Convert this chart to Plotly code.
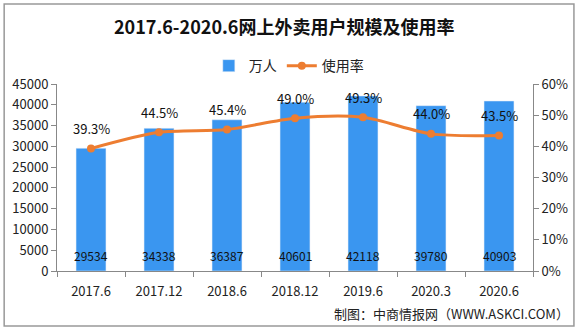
import plotly.graph_objects as go

categories = ["2017.6", "2017.12", "2018.6", "2018.12", "2019.6", "2020.3", "2020.6"]
users = [29534, 34338, 36387, 40601, 42118, 39780, 40903]
rate = [39.3, 44.5, 45.4, 49.0, 49.3, 44.0, 43.5]
rate_labels = ["39.3%", "44.5%", "45.4%", "49.0%", "49.3%", "44.0%", "43.5%"]

FONT = "Noto Sans CJK SC"
BLUE = "#3A96F0"
ORANGE = "#ED7D31"

pos = list(range(len(categories)))
bounds = [p - 0.5 for p in pos] + [pos[-1] + 0.5]

fig = go.Figure()
fig.add_trace(go.Bar(
    x=pos, y=users, name="万人", marker_color=BLUE, width=0.44, yaxis="y",
))
fig.add_trace(go.Scatter(
    x=pos, y=rate, name="使用率", yaxis="y2", mode="lines+markers",
    line=dict(color=ORANGE, width=3, shape="spline", smoothing=0.8),
    marker=dict(color=ORANGE, size=8),
))

annotations = []
for p, v in zip(pos, users):
    annotations.append(dict(x=p, y=0, xref="x", yref="y", text=str(v), showarrow=False,
                            yshift=16, font=dict(family=FONT, size=12, color="#111")))
for p, r, t in zip(pos, rate, rate_labels):
    annotations.append(dict(x=p, y=r, xref="x", yref="y2", text=t, showarrow=False,
                            yshift=20, font=dict(family=FONT, size=13, color="#111")))
annotations.append(dict(x=1.08, y=-0.225, xref="paper", yref="paper", xanchor="right",
                        yanchor="middle", text="制图：中商情报网（WWW.ASKCI.COM）",
                        showarrow=False, font=dict(family=FONT, size=13, color="#222")))

fig.update_layout(
    width=580, height=330,
    margin=dict(l=57, r=45, t=84, b=59),
    paper_bgcolor="white", plot_bgcolor="white",
    font=dict(family=FONT, size=13, color="#222"),
    title=dict(text="<b>2017.6-2020.6网上外卖用户规模及使用率</b>", x=0.49, xanchor="center",
               y=0.915, yanchor="middle", font=dict(family=FONT, size=18, color="#111")),
    showlegend=True,
    legend=dict(orientation="h", x=0.487, xanchor="center", y=1.096, yanchor="middle",
                font=dict(family=FONT, size=14, color="#222"), bgcolor="rgba(0,0,0,0)",
                itemwidth=30, tracegroupgap=0),
    xaxis=dict(range=[-0.5, len(categories) - 0.5], tickmode="array", tickvals=pos,
               ticktext=categories, showline=True, linecolor="#888", linewidth=1,
               ticks="", showgrid=False, zeroline=False, ticklabelstandoff=8,
               minor=dict(tickmode="array", tickvals=bounds, ticks="outside", ticklen=5,
                          tickcolor="#888", showgrid=False),
               tickfont=dict(family=FONT, size=13, color="#222")),
    yaxis=dict(range=[0, 45000], dtick=5000, showline=True, linecolor="#888",
               ticks="outside", ticklen=5, tickcolor="#888", showgrid=False,
               zeroline=False, tickformat="d",
               tickfont=dict(family=FONT, size=13, color="#222")),
    yaxis2=dict(range=[0, 60], dtick=10, overlaying="y", side="right", showline=True,
                linecolor="#888", ticks="outside", ticklen=5, tickcolor="#888",
                showgrid=False, zeroline=False, ticksuffix="%",
                tickfont=dict(family=FONT, size=13, color="#222")),
    annotations=annotations,
)
fig.add_shape(type="rect", xref="paper", yref="paper", x0=-0.111, x1=1.086, y0=-0.294, y1=1.428,
              line=dict(color="#999", width=1.5), fillcolor="rgba(0,0,0,0)", layer="below")

fig.write_html("out.html")
